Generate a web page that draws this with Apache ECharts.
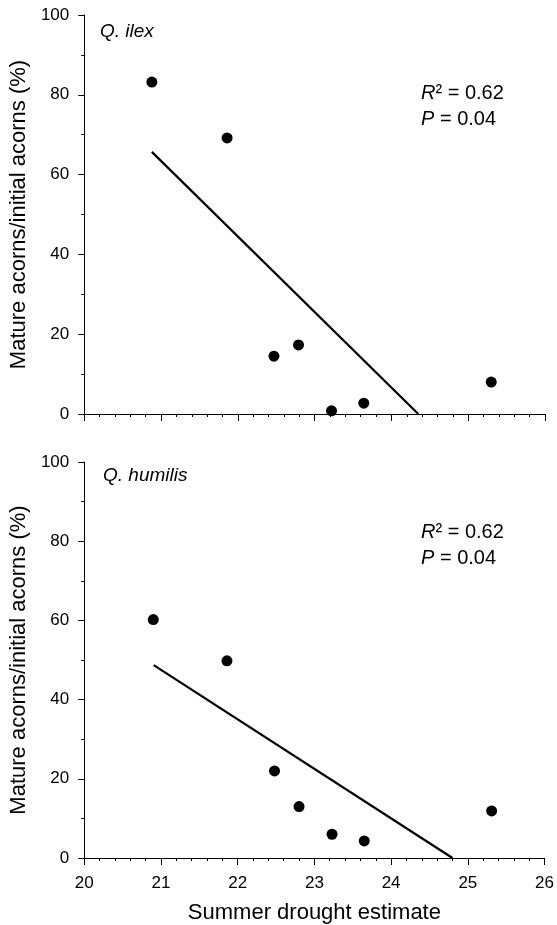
<!DOCTYPE html>
<html>
<head>
<meta charset="utf-8">
<script src="https://cdn.jsdelivr.net/npm/echarts@6/dist/echarts.min.js"></script>
<style>
html,body{margin:0;padding:0;background:#fff;}
#c{width:557px;height:925px;}
</style>
</head>
<body>
<div id="c"></div>
<script>
// Data
const xTicks = [20, 21, 22, 23, 24, 25, 26];
const yTicks = [0, 20, 40, 60, 80, 100];
const ilexX = [20.88, 21.86, 22.47, 22.79, 23.22, 23.64, 25.30];
const ilexY = [83.2, 69.2, 14.5, 17.3, 0.8, 2.7, 8.0];
const humX = [20.90, 21.86, 22.48, 22.80, 23.23, 23.65, 25.31];
const humY = [60.2, 49.8, 22.0, 13.0, 6.0, 4.3, 11.9];
const ilexFitX = [20.88, 24.35];
const ilexFitY = [65.7, 0];
const humFitX = [20.905, 24.80];
const humFitY = [48.7, 0];
const panelNames = ['Q. ilex', 'Q. humilis'];
const statsR2 = ['0.62', '0.62'];
const statsP = ['0.04', '0.04'];

const FONT = '"Liberation Sans", Arial, Helvetica, sans-serif';
const zip = (a, b) => a.map((v, i) => [v, b[i]]);

function xAxis(idx, showLabels) {
  return {
    type: 'value', gridIndex: idx,
    min: xTicks[0], max: xTicks[xTicks.length - 1], interval: 1,
    axisLine: { show: true, onZero: false, lineStyle: { color: '#000', width: 1 } },
    axisTick: { show: true, length: 7, lineStyle: { color: '#000', width: 1 } },
    minorTick: { show: true, splitNumber: 5, length: 3, lineStyle: { color: '#000', width: 1 } },
    splitLine: { show: false },
    axisLabel: { show: showLabels, color: '#000', fontSize: 17, fontFamily: FONT, margin: 17 },
    name: showLabels ? 'Summer drought estimate' : '',
    nameLocation: 'middle', nameGap: 44,
    nameTextStyle: { color: '#000', fontSize: 22, fontFamily: FONT }
  };
}
function yAxis(idx) {
  return {
    type: 'value', gridIndex: idx,
    min: yTicks[0], max: yTicks[yTicks.length - 1], interval: 20,
    axisLine: { show: true, onZero: false, lineStyle: { color: '#000', width: 1 } },
    axisTick: { show: true, length: 6, lineStyle: { color: '#000', width: 1 } },
    minorTick: { show: true, splitNumber: 2, length: 3, lineStyle: { color: '#000', width: 1 } },
    splitLine: { show: false },
    axisLabel: { color: '#000', fontSize: 17, fontFamily: FONT, margin: 15 },
    name: 'Mature acorns/initial acorns (%)',
    nameLocation: 'middle', nameGap: 49,
    nameTextStyle: { color: '#000', fontSize: 22, fontFamily: FONT }
  };
}

const scatterStyle = { color: '#000', opacity: 1 };
const option = {
  backgroundColor: '#fff',
  animation: false,
  grid: [
    { left: 84, width: 461, top: 15, height: 399 },
    { left: 84, width: 461, top: 462, height: 397 }
  ],
  xAxis: [xAxis(0, false), xAxis(1, true)],
  yAxis: [yAxis(0), yAxis(1)],
  series: [
    { type: 'scatter', xAxisIndex: 0, yAxisIndex: 0, data: zip(ilexX, ilexY), symbolSize: 11, itemStyle: scatterStyle },
    { type: 'line', xAxisIndex: 0, yAxisIndex: 0, data: zip(ilexFitX, ilexFitY), symbol: 'none', lineStyle: { color: '#000', width: 2.2 } },
    { type: 'scatter', xAxisIndex: 1, yAxisIndex: 1, data: zip(humX, humY), symbolSize: 11, itemStyle: scatterStyle },
    { type: 'line', xAxisIndex: 1, yAxisIndex: 1, data: zip(humFitX, humFitY), symbol: 'none', lineStyle: { color: '#000', width: 2.2 } }
  ],
  graphic: [
    { type: 'text', left: 100, top: 22, style: { text: panelNames[0], fill: '#000', font: 'italic 19px ' + FONT } },
    { type: 'text', left: 103, top: 466, style: { text: panelNames[1], fill: '#000', font: 'italic 19px ' + FONT } },
    { type: 'text', left: 421, top: 83, style: {
        text: '{i|R}{n|² = ' + statsR2[0] + '}\n{i|P}{n| = ' + statsP[0] + '}',
        fill: '#000',
        rich: { i: { fontStyle: 'italic', fontSize: 20, fontFamily: FONT, lineHeight: 26, fill: '#000' },
                n: { fontSize: 20, fontFamily: FONT, lineHeight: 26, fill: '#000' } } } },
    { type: 'text', left: 421, top: 522, style: {
        text: '{i|R}{n|² = ' + statsR2[1] + '}\n{i|P}{n| = ' + statsP[1] + '}',
        fill: '#000',
        rich: { i: { fontStyle: 'italic', fontSize: 20, fontFamily: FONT, lineHeight: 26, fill: '#000' },
                n: { fontSize: 20, fontFamily: FONT, lineHeight: 26, fill: '#000' } } } }
  ]
};
const chart = echarts.init(document.getElementById('c'), null, { renderer: 'canvas' });
chart.setOption(option);
</script>
</body>
</html>
